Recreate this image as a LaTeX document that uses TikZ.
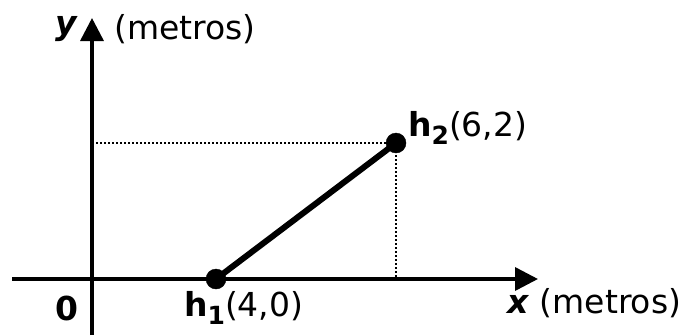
\documentclass[tikz,border=0pt]{standalone}
\usepackage{fontspec}
\setmainfont{DejaVu Sans}
\usetikzlibrary{arrows.meta}
\newcommand{\hsub}[1]{\textbf{h}\raisebox{-0.22em}{\fontsize{25}{25}\selectfont\bfseries #1}}
\begin{document}
\begin{tikzpicture}[x=1pt,y=-1pt,
		axis/.style={line width=3.5pt,-{Triangle[length=23pt,width=23pt]}},
		guide/.style={line width=2.5pt,dash pattern=on 2pt off 2pt},
		lbl/.style={font=\fontsize{33}{36}\selectfont,inner sep=0pt}]
		\useasboundingbox (0,0) rectangle (688,335);
		\coordinate (xs) at (12,279);
		\coordinate (xe) at (538,279);
		\coordinate (ys) at (92,335);
		\coordinate (ye) at (92,18);
		\coordinate (h1) at (216,279);
		\coordinate (h2) at (396,143);
		\coordinate (yh) at (92,143);
		\coordinate (xh) at (396,279);
		\draw[axis] (xs) -- (xe);
		\draw[axis] (ys) -- (ye);
		\draw[guide] (yh) -- (h2);
		\draw[guide] (h2) -- (xh);
		\draw[line width=6pt] (h1) -- (h2);
		\filldraw[black] (h1) circle (10pt);
		\filldraw[black] (h2) circle (10pt);
		\node[lbl] (ylab) at (67,29) {\textbf{\textit{y}}};
		\node[lbl, anchor=west] (yunit) at (114,29) {(metros)};
		\node[lbl] (zero) at (67,308) {\textbf{0}};
		\node[lbl, anchor=west] (h1lab) at (184,308) {\hsub{1}(4,0)};
		\node[lbl, anchor=west] (h2lab) at (408,128) {\hsub{2}(6,2)};
		\node[lbl, anchor=west] (xlab) at (507,303) {\textbf{\textit{x}} (metros)};
	\end{tikzpicture}
\end{document}
